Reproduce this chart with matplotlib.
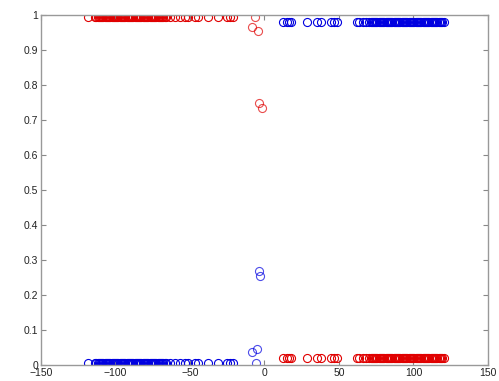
import matplotlib.pyplot as plt

# x positions, left group (red on top, blue at bottom)
left_x = [-118.3, -113.8,
          -112.7, -111.9, -111.2, -110.3, -109.6, -108.8, -108.1, -107.2, -106.5, -105.7,
          -104.9, -104.2, -103.4, -102.6, -101.8, -101.1, -100.3, -99.5, -98.8, -98.0,
          -97.1, -96.4, -95.6, -94.9, -94.1, -93.3, -92.5, -91.8, -91.0, -90.2, -89.5,
          -88.7, -87.9, -87.1, -86.4, -85.6, -84.8, -84.1, -83.3, -82.5, -81.7, -81.0,
          -80.2, -79.4, -78.7, -77.9, -77.1, -76.3, -75.6, -74.8, -74.0, -73.3, -72.5,
          -71.7, -70.9, -70.2, -69.4, -68.6, -67.9, -67.0, -66.2,
          -63.4, -60.0, -56.7, -53.5, -51.0, -46.5, -44.4, -37.7, -31.0, -25.4, -23.2, -21.0]

# x positions, right group (blue on top, red at bottom)
right_x = [12.6, 14.9, 16.6, 17.6, 28.5, 35.5, 38.0, 44.5, 46.8, 48.9,
           61.9, 63.5, 66.0, 68.0, 70.3,
           71.2, 72.0, 72.7, 73.5, 74.3, 75.1, 75.8, 76.6, 77.4, 78.2, 78.9, 79.7,
           80.5, 81.3, 82.0, 82.8, 83.6, 84.4, 85.1, 85.9, 86.7, 87.5, 88.2, 89.0,
           89.8, 90.6, 91.3, 92.1, 92.9, 93.7, 94.4, 95.2, 96.0, 96.8, 97.5, 98.3,
           99.1, 99.9, 100.6, 101.4, 102.2, 103.0, 103.7, 104.5, 105.3, 106.1, 106.8,
           107.6, 108.4, 109.2, 109.9, 110.7, 111.5, 112.3, 113.0, 113.8, 114.6,
           115.4, 116.1, 116.9, 117.7, 118.4, 118.9, 120.5]

red_top_y = 0.995
blue_top_y = 0.981
red_bottom_y = 0.02
blue_bottom_y = 0.007

# points in the transition region near zero
red_mid_x = [-6.4, -8.5, -4.5, -3.5, -1.9]
red_mid_y = [0.995, 0.965, 0.953, 0.748, 0.734]
blue_mid_x = [-5.7, -8.6, -4.8, -3.8, -3.0]
blue_mid_y = [0.008, 0.038, 0.047, 0.27, 0.256]

fig = plt.figure(figsize=(4.99, 3.81), dpi=100)
ax = fig.add_axes([0.082, 0.0407, 0.8958, 0.92])

mk = dict(marker='o', linestyle='none', markersize=5.8, markerfacecolor='none',
          markeredgewidth=0.8)
ax.plot(left_x, [red_top_y] * len(left_x), color='#e00000', **mk)
ax.plot(right_x, [red_bottom_y] * len(right_x), color='#e00000', **mk)
ax.plot(red_mid_x, red_mid_y, color='#e00000', alpha=0.7, **mk)
ax.plot(right_x, [blue_top_y] * len(right_x), color='#0000e0', **mk)
ax.plot(left_x, [blue_bottom_y] * len(left_x), color='#0000e0', **mk)
ax.plot(blue_mid_x, blue_mid_y, color='#0000e0', alpha=0.7, **mk)

ax.set_xlim(-150, 150)
ax.set_ylim(0, 1)
ax.set_xticks([-150, -100, -50, 0, 50, 100, 150])
ax.set_yticks([0, 0.1, 0.2, 0.3, 0.4, 0.5, 0.6, 0.7, 0.8, 0.9, 1])
ax.set_yticklabels(['0', '0.1', '0.2', '0.3', '0.4', '0.5', '0.6', '0.7', '0.8', '0.9', '1'])
ax.tick_params(direction='in', length=3.5, width=0.8, top=True, right=True,
               labelsize=7.5, colors='#888888', labelcolor='#222222', pad=2)
for s in ax.spines.values():
    s.set_color('#999999')
    s.set_linewidth(1.0)
for lbl in ax.get_xticklabels() + ax.get_yticklabels():
    lbl.set_family('Liberation Sans')

fig.savefig('out.png', dpi=100)
